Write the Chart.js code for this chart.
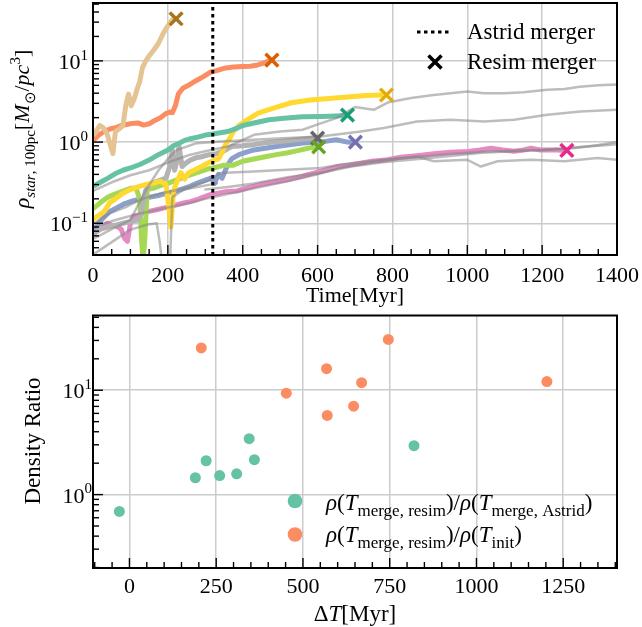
<!DOCTYPE html>
<html>
<head>
<meta charset="utf-8">
<script src="https://cdn.jsdelivr.net/npm/chart.js@4.4.1/dist/chart.umd.min.js"></script>
<style>
html, body { margin: 0; padding: 0; background: #fff; }
#wrap { position: relative; width: 642px; height: 627px; }
#topChart { position: absolute; left: 0; top: 0; }
#botChart { position: absolute; left: 0; top: 310px; }
</style>
</head>
<body>
<div id="wrap">
  <canvas id="topChart" width="642" height="310"></canvas>
  <canvas id="botChart" width="642" height="317"></canvas>
</div>
<script>
// ---- top panel: resim density tracks (Time in Myr, rho in Msun/pc^3) ----
var tanT = [3, 10, 18, 28, 38, 47, 53, 60, 70, 80, 88, 95, 102, 110, 118, 125, 132, 140, 150, 162, 175, 188, 200, 212];
var tanRho = [1.25, 1.4, 1.6, 1.5, 1.25, 0.9, 0.72, 1.35, 1.45, 1.6, 2.9, 3.9, 2.8, 3.4, 4.5, 5.6, 8.2, 9.8, 11.5, 13.5, 16.5, 22, 27, 32];

var orangeT = [3, 15, 30, 45, 60, 75, 90, 105, 120, 135, 150, 165, 180, 195, 205, 212, 220, 228, 240, 255, 275, 295, 315, 330, 350, 375, 400, 420, 440, 460, 470];
var orangeRho = [1.08, 1.22, 1.35, 1.45, 1.5, 1.6, 1.65, 1.7, 1.72, 1.62, 1.68, 1.85, 2.0, 2.25, 2.35, 2.3, 2.8, 3.9, 4.6, 5.0, 5.7, 6.4, 7.3, 7.6, 8.1, 8.4, 8.5, 8.6, 8.9, 9.5, 10.0];

var tealT = [3, 20, 40, 60, 80, 100, 125, 150, 175, 200, 215, 230, 245, 260, 280, 300, 320, 340, 360, 380, 400, 430, 470, 510, 560, 610, 650, 670];
var tealRho = [0.29, 0.32, 0.36, 0.41, 0.45, 0.48, 0.53, 0.6, 0.7, 0.8, 0.9, 0.97, 1.05, 1.1, 1.15, 1.22, 1.26, 1.3, 1.35, 1.45, 1.6, 1.72, 1.88, 1.97, 2.05, 2.07, 2.1, 2.12];

var yellowT = [3, 15, 30, 45, 60, 80, 100, 120, 140, 160, 180, 195, 203, 208, 215, 225, 235, 245, 255, 270, 290, 310, 325, 335, 345, 355, 365, 375, 390, 410, 440, 480, 530, 580, 630, 680, 730, 770];
var yellowRho = [0.115, 0.125, 0.14, 0.18, 0.2, 0.235, 0.26, 0.28, 0.3, 0.31, 0.33, 0.3, 0.15, 0.09, 0.25, 0.33, 0.42, 0.35, 0.42, 0.45, 0.5, 0.56, 0.6, 0.62, 0.75, 0.95, 1.1, 1.35, 1.6, 1.85, 2.25, 2.6, 3.05, 3.3, 3.45, 3.6, 3.75, 3.8];

var grayT = [3, 20, 40, 60, 80, 100, 120, 130, 140, 150, 165, 180, 195, 205, 212, 218, 225, 230, 238, 248, 260, 275, 290, 310, 330, 350, 370, 400, 430, 460, 500, 545, 590];
var grayRho = [0.075, 0.085, 0.09, 0.095, 0.1, 0.105, 0.11, 0.14, 0.25, 0.3, 0.32, 0.34, 0.36, 0.5, 0.8, 0.45, 0.6, 0.88, 0.5, 0.55, 0.6, 0.64, 0.66, 0.7, 0.72, 0.78, 0.88, 0.9, 0.93, 0.98, 1.02, 1.07, 1.12];

var greenT = [3, 20, 40, 60, 80, 100, 115, 125, 130, 134, 138, 145, 160, 180, 200, 215, 230, 250, 270, 290, 310, 330, 350, 375, 400, 430, 460, 490, 520, 550, 575, 595];
var greenRho = [0.155, 0.18, 0.21, 0.23, 0.25, 0.27, 0.27, 0.2, 0.06, 0.035, 0.06, 0.26, 0.27, 0.29, 0.31, 0.33, 0.35, 0.38, 0.41, 0.44, 0.47, 0.49, 0.52, 0.52, 0.58, 0.62, 0.66, 0.7, 0.74, 0.79, 0.84, 0.88];

var blueT = [3, 15, 30, 45, 63, 85, 108, 130, 153, 175, 197, 215, 233, 255, 277, 300, 315, 325, 335, 345, 358, 370, 390, 410, 430, 460, 490, 520, 555, 590, 620, 650, 680, 695];
var blueRho = [0.08, 0.1, 0.12, 0.14, 0.155, 0.175, 0.19, 0.2, 0.21, 0.22, 0.235, 0.245, 0.26, 0.28, 0.31, 0.34, 0.36, 0.31, 0.4, 0.36, 0.5, 0.62, 0.7, 0.75, 0.8, 0.84, 0.88, 0.92, 0.97, 1.0, 1.02, 1.07, 1.0, 0.98];

var pinkT = [3, 20, 37, 50, 63, 75, 85, 92, 100, 108, 120, 134, 150, 170, 190, 206, 225, 242, 260, 277, 295, 313, 335, 358, 384, 415, 447, 480, 518, 555, 590, 620, 652, 685, 715, 745, 780, 822, 865, 911, 955, 1002, 1035, 1063, 1095, 1125, 1150, 1170, 1195, 1214, 1240, 1258];
var pinkRho = [0.075, 0.085, 0.1, 0.095, 0.092, 0.085, 0.065, 0.06, 0.1, 0.122, 0.125, 0.134, 0.14, 0.147, 0.155, 0.16, 0.17, 0.178, 0.185, 0.195, 0.21, 0.225, 0.235, 0.247, 0.25, 0.275, 0.3, 0.32, 0.344, 0.375, 0.415, 0.45, 0.5, 0.52, 0.55, 0.58, 0.6, 0.65, 0.68, 0.72, 0.75, 0.765, 0.8, 0.84, 0.8, 0.77, 0.8, 0.84, 0.8, 0.8, 0.8, 0.79];

// Astrid tracks (thin grey)
var astridAT = [0, 50, 100, 150, 200, 260, 300, 360, 430, 500, 560, 610, 650, 700, 750, 790, 850, 910, 1000, 1045, 1100, 1150, 1214, 1260, 1300, 1350, 1400];
var astridARho = [0.25, 0.32, 0.39, 0.45, 0.56, 0.7, 0.77, 0.88, 1.23, 1.35, 1.42, 1.71, 1.97, 2.7, 2.5, 3.1, 3.5, 3.8, 4.2, 4.0, 4.0, 4.1, 4.4, 4.5, 4.8, 5.0, 5.1];
var astridBT = [3, 50, 100, 140, 175, 200, 224, 277, 340, 430, 520, 608, 715, 777, 866, 955, 1045, 1125, 1214, 1303, 1400];
var astridBRho = [0.065, 0.085, 0.11, 0.25, 0.45, 0.62, 0.8, 0.97, 1.02, 1.07, 1.12, 1.17, 1.35, 1.49, 1.79, 1.88, 1.79, 1.88, 2.17, 2.38, 2.5];
var astridCT = [0, 60, 120, 180, 240, 300, 360, 430, 520, 600, 690, 780, 870, 960, 1040, 1120, 1200, 1260, 1300, 1350, 1400];
var astridCRho = [0.09, 0.11, 0.13, 0.15, 0.17, 0.2, 0.23, 0.27, 0.33, 0.4, 0.52, 0.6, 0.66, 0.72, 0.76, 0.78, 0.8, 0.82, 0.86, 0.92, 1.0];
var astridDT = [300, 360, 430, 520, 608, 690, 780, 870, 960, 1040, 1120, 1200, 1260, 1300, 1350, 1400];
var astridDRho = [0.26, 0.28, 0.31, 0.37, 0.42, 0.5, 0.57, 0.62, 0.68, 0.74, 0.77, 0.8, 0.84, 0.87, 0.9, 0.94];
var astridET = [3, 46, 90, 126, 160, 188, 230, 260, 304, 340, 429, 518, 608, 688, 777, 866, 911, 1000, 1036, 1081, 1170, 1259, 1348, 1400];
var astridERho = [0.1, 0.134, 0.16, 0.195, 0.22, 0.236, 0.26, 0.284, 0.328, 0.415, 0.435, 0.457, 0.48, 0.55, 0.606, 0.665, 0.58, 0.606, 0.5, 0.58, 0.606, 0.58, 0.635, 0.606];
var astridFT = [3, 46, 99, 143, 170, 178, 184, 200, 206, 212, 242, 286, 331];
var astridFRho = [0.042, 0.057, 0.083, 0.096, 0.1, 0.06, 0.035, 0.035, 0.035, 0.21, 0.26, 0.284, 0.31];

// resim merger points (X markers), order: tan, orange, teal, yellow, gray, green, blue, pink
var mergeT = [222, 478, 680, 784, 600, 603, 701, 1266];
var mergeRho = [33, 10.2, 2.15, 3.8, 1.12, 0.87, 1.0, 0.79];
var astridMergerT = 320;

// ---- bottom panel: density ratio vs Delta T ----
var dtAstrid = [-29, 190, 221, 260, 309, 345, 360, 820];
var ratioAstrid = [0.69, 1.45, 2.11, 1.52, 1.58, 3.43, 2.16, 2.94];
var dtInit = [207, 452, 568, 570, 646, 669, 746, 1203];
var ratioInit = [25.4, 9.36, 16.1, 5.73, 7.03, 11.8, 30.7, 12.1];

var topXTicks = [0, 200, 400, 600, 800, 1000, 1200, 1400];
var topYTicks = [0.1, 1, 10];
var botXTicks = [0, 250, 500, 750, 1000, 1250];
var botYTicks = [1, 10];

var SERIF = "'Liberation Serif', 'Times New Roman', serif";

function pts(ts, vs) { return ts.map(function (t, i) { return { x: t, y: vs[i] }; }); }

function lineSet(ts, vs, color, width, order) {
    return { type: 'line', data: pts(ts, vs), borderColor: color, borderWidth: width,
             pointRadius: 0, tension: 0, fill: false, order: order, borderJoinStyle: 'round', borderCapStyle: 'round' };
}

// draw text built from segments: {t, i: italic, s: scale, dy: shift in em (down +)}
function richWidth(ctx, segs, size) {
    var w = 0;
    segs.forEach(function (g) {
        ctx.font = (g.i ? 'italic ' : '') + Math.round(size * (g.s || 1)) + 'px ' + SERIF;
        w += ctx.measureText(g.t).width;
    });
    return w;
}
function drawRich(ctx, segs, x, y, size, align) {
    var w = richWidth(ctx, segs, size);
    var cx = align === 'center' ? x - w / 2 : (align === 'right' ? x - w : x);
    ctx.textAlign = 'left';
    ctx.textBaseline = 'alphabetic';
    segs.forEach(function (g) {
        ctx.font = (g.i ? 'italic ' : '') + Math.round(size * (g.s || 1)) + 'px ' + SERIF;
        ctx.fillText(g.t, cx, y + (g.dy || 0) * size);
        cx += ctx.measureText(g.t).width;
    });
}

function fixedTicks(vals) {
    return function (scale) { scale.ticks = vals.map(function (v) { return { value: v }; }); };
}

function axisDecor(opts) {
    return {
        id: 'decor',
        afterDraw: function (chart) {
            var ctx = chart.ctx, a = chart.chartArea;
            var xs = chart.scales.x, ys = chart.scales.y;
            ctx.save();
            ctx.strokeStyle = '#000';
            ctx.fillStyle = '#000';
            ctx.lineWidth = 1.4;
            // x ticks, inward from bottom
            for (var v = opts.xMinorStart; v <= xs.max; v += opts.xMinorStep) {
                var px = xs.getPixelForValue(v);
                if (px < a.left - 0.5 || px > a.right + 0.5) continue;
                var major = opts.xTicks.indexOf(v) >= 0;
                var len = major ? 10 : 6;
                ctx.beginPath(); ctx.moveTo(px, a.bottom); ctx.lineTo(px, a.bottom - len); ctx.stroke();
            }
            // y log ticks, inward from left
            for (var d = -3; d <= 2; d++) {
                for (var k = 1; k <= 9; k++) {
                    var val = k * Math.pow(10, d);
                    if (val < ys.min || val > ys.max) continue;
                    var py = ys.getPixelForValue(val);
                    var l = k === 1 ? 10 : 6;
                    ctx.beginPath(); ctx.moveTo(a.left, py); ctx.lineTo(a.left + l, py); ctx.stroke();
                }
            }
            // frame
            ctx.lineWidth = 2;
            ctx.strokeRect(a.left, a.top, a.right - a.left, a.bottom - a.top);
            // x tick labels
            ctx.font = '22px ' + SERIF;
            ctx.textAlign = 'center';
            ctx.textBaseline = 'alphabetic';
            opts.xTicks.forEach(function (v) {
                ctx.fillText(String(v), xs.getPixelForValue(v), opts.xLabelY);
            });
            // y tick labels 10^n
            opts.yTicks.forEach(function (v) {
                var e = Math.round(Math.log10(v));
                var py = ys.getPixelForValue(v);
                drawRich(ctx, [{ t: '10' }, { t: String(e).replace('-', '\u2212'), s: 0.68, dy: -0.42 }],
                         opts.yLabelRight, py + 8, 22, 'right');
            });
            if (opts.extra) opts.extra(ctx, chart);
            ctx.restore();
        }
    };
}

// ---------------- top chart ----------------
var set2 = { tan: '#e5c494', orange: '#fc8d62', teal: '#66c2a5', yellow: '#ffd92f',
             gray: '#b3b3b3', green: '#a6d854', blue: '#8da0cb', pink: '#e78ac3' };
var dark2 = ['#a6761d', '#d95f02', '#1b9e77', '#e6ab02', '#666666', '#66a61e', '#7570b3', '#e7298a'];
var astridColor = 'rgba(135,135,135,0.55)';

var topDatasets = [
    { type: 'scatter', data: pts(mergeT, mergeRho), pointStyle: 'crossRot', pointRadius: 9,
      pointBorderWidth: 3.5, pointBorderColor: dark2, pointBackgroundColor: dark2, order: 0 },
    lineSet([astridMergerT, astridMergerT], [0.01, 100], '#000', 3, 1),
    lineSet(astridAT, astridARho, astridColor, 2.5, 2),
    lineSet(astridBT, astridBRho, astridColor, 2.5, 2),
    lineSet(astridCT, astridCRho, astridColor, 2.5, 2),
    lineSet(astridDT, astridDRho, astridColor, 2.5, 2),
    lineSet(astridET, astridERho, astridColor, 2.5, 2),
    lineSet(astridFT, astridFRho, astridColor, 2.5, 2),
    lineSet(tanT, tanRho, set2.tan, 5, 3),
    lineSet(orangeT, orangeRho, set2.orange, 5, 3),
    lineSet(tealT, tealRho, set2.teal, 5, 3),
    lineSet(yellowT, yellowRho, set2.yellow, 5, 3),
    lineSet(grayT, grayRho, set2.gray, 5, 3),
    lineSet(greenT, greenRho, set2.green, 5, 3),
    lineSet(blueT, blueRho, set2.blue, 5, 3),
    lineSet(pinkT, pinkRho, set2.pink, 5, 3)
];
topDatasets[1].borderDash = [3.5, 3.5];
topDatasets[1].borderCapStyle = 'butt';

new Chart(document.getElementById('topChart'), {
    data: { datasets: topDatasets },
    options: {
        responsive: false, animation: false, events: [],
        layout: { autoPadding: false, padding: { left: 0, top: 3, right: 25, bottom: 0 } },
        plugins: { legend: { display: false }, tooltip: { enabled: false } },
        scales: {
            x: { type: 'linear', min: 0, max: 1400, afterBuildTicks: fixedTicks(topXTicks),
                 afterFit: function (s) { s.height = 55; },
                 ticks: { display: false }, border: { display: false },
                 grid: { color: '#cccccc', lineWidth: 1.5, drawTicks: false } },
            y: { type: 'logarithmic', min: 0.0407, max: 51.6, afterBuildTicks: fixedTicks(topYTicks),
                 afterFit: function (s) { s.width = 93; },
                 ticks: { display: false }, border: { display: false },
                 grid: { color: '#cccccc', lineWidth: 1.5, drawTicks: false } }
        }
    },
    plugins: [axisDecor({
        xTicks: topXTicks, xMinorStart: 0, xMinorStep: 50, xLabelY: 282,
        yTicks: topYTicks, yLabelRight: 88,
        extra: function (ctx, chart) {
            // axis titles
            ctx.font = '22px ' + SERIF;
            ctx.textAlign = 'center';
            ctx.fillText('Time[Myr]', 355, 302);
            ctx.save();
            ctx.translate(29, 129);
            ctx.rotate(-Math.PI / 2);
            drawRich(ctx, [{ t: '\u03c1', i: 1 }, { t: 'star', i: 1, s: 0.7, dy: 0.25 }, { t: ', 100pc', s: 0.7, dy: 0.25 },
                           { t: '[' }, { t: 'M', i: 1 }, { t: '\u2299', s: 0.7, dy: 0.25 }, { t: '/' },
                           { t: 'pc', i: 1 }, { t: '3', s: 0.7, dy: -0.4 }, { t: ']' }], 0, 0, 22, 'center');
            ctx.restore();
            // legend
            ctx.strokeStyle = '#000';
            ctx.lineWidth = 3;
            ctx.setLineDash([3.5, 3.5]);
            ctx.beginPath(); ctx.moveTo(417, 32); ctx.lineTo(449, 32); ctx.stroke();
            ctx.setLineDash([]);
            ctx.lineWidth = 3.5;
            ctx.beginPath();
            ctx.moveTo(428.5, 55.5); ctx.lineTo(441.5, 68.5);
            ctx.moveTo(441.5, 55.5); ctx.lineTo(428.5, 68.5);
            ctx.stroke();
            ctx.font = '23px ' + SERIF;
            ctx.textAlign = 'left';
            ctx.fillText('Astrid merger', 467, 39);
            ctx.fillText('Resim merger', 467, 69);
        }
    })]
});

// ---------------- bottom chart ----------------
new Chart(document.getElementById('botChart'), {
    type: 'scatter',
    data: { datasets: [
        { data: pts(dtAstrid, ratioAstrid), pointRadius: 5.5, pointBorderWidth: 0,
          pointBackgroundColor: '#66c2a5', pointBorderColor: '#66c2a5' },
        { data: pts(dtInit, ratioInit), pointRadius: 5.5, pointBorderWidth: 0,
          pointBackgroundColor: '#fc8d62', pointBorderColor: '#fc8d62' }
    ] },
    options: {
        responsive: false, animation: false, events: [],
        layout: { autoPadding: false, padding: { left: 0, top: 5.5, right: 25, bottom: 0 } },
        plugins: { legend: { display: false }, tooltip: { enabled: false } },
        scales: {
            x: { type: 'linear', min: -105, max: 1405, afterBuildTicks: fixedTicks(botXTicks),
                 afterFit: function (s) { s.height = 59; },
                 ticks: { display: false }, border: { display: false },
                 grid: { color: '#cccccc', lineWidth: 1.5, drawTicks: false } },
            y: { type: 'logarithmic', min: 0.198, max: 52, afterBuildTicks: fixedTicks(botYTicks),
                 afterFit: function (s) { s.width = 93; },
                 ticks: { display: false }, border: { display: false },
                 grid: { color: '#cccccc', lineWidth: 1.5, drawTicks: false } }
        }
    },
    plugins: [axisDecor({
        xTicks: botXTicks, xMinorStart: -100, xMinorStep: 50, xLabelY: 283,
        yTicks: botYTicks, yLabelRight: 92,
        extra: function (ctx, chart) {
            drawRich(ctx, [{ t: '\u0394' }, { t: 'T', i: 1 }, { t: '[Myr]' }], 355, 311, 23, 'center');
            ctx.save();
            ctx.translate(40, 131);
            ctx.rotate(-Math.PI / 2);
            ctx.font = '23px ' + SERIF;
            ctx.textAlign = 'center';
            ctx.fillText('Density Ratio', 0, 0);
            ctx.restore();
            // legend
            ctx.fillStyle = '#66c2a5';
            ctx.beginPath(); ctx.arc(295, 191, 7.3, 0, Math.PI * 2); ctx.fill();
            ctx.fillStyle = '#fc8d62';
            ctx.beginPath(); ctx.arc(295, 224.5, 7.3, 0, Math.PI * 2); ctx.fill();
            ctx.fillStyle = '#000';
            drawRich(ctx, [{ t: '\u03c1', i: 1 }, { t: '(' }, { t: 'T', i: 1 }, { t: 'merge, resim', s: 0.72, dy: 0.25 },
                           { t: ')' }, { t: '/' }, { t: '\u03c1', i: 1 }, { t: '(' }, { t: 'T', i: 1 },
                           { t: 'merge, Astrid', s: 0.72, dy: 0.25 }, { t: ')' }], 326, 200, 23, 'left');
            drawRich(ctx, [{ t: '\u03c1', i: 1 }, { t: '(' }, { t: 'T', i: 1 }, { t: 'merge, resim', s: 0.72, dy: 0.25 },
                           { t: ')' }, { t: '/' }, { t: '\u03c1', i: 1 }, { t: '(' }, { t: 'T', i: 1 },
                           { t: 'init', s: 0.72, dy: 0.25 }, { t: ')' }], 326, 232, 23, 'left');
        }
    })]
});
</script>
</body>
</html>
